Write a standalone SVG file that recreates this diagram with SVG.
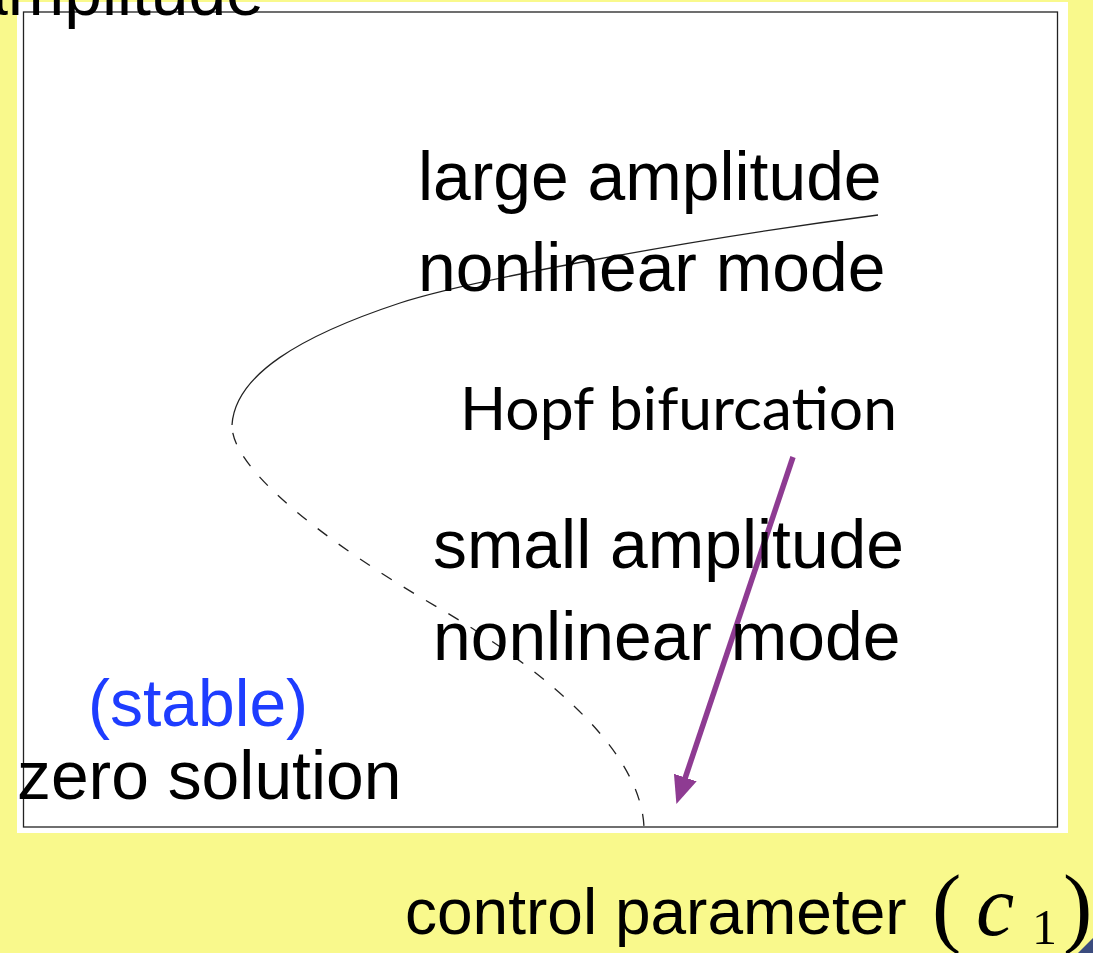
<svg xmlns="http://www.w3.org/2000/svg" width="1093" height="953" viewBox="0 0 1093 953">
<style>
.t{font-family:"Liberation Sans",Arial,sans-serif;font-size:67.8px;fill:#000}
.h{font-family:Lato,"Open Sans",sans-serif;font-size:60px;fill:#000}
.m{font-family:"Liberation Serif","Times New Roman",serif;fill:#000}
.curve{fill:none;stroke:#222;stroke-width:1.3}
</style>
<defs>
<marker id="ah" markerUnits="userSpaceOnUse" viewBox="0 0 28 24" markerWidth="28" markerHeight="24" refX="1" refY="12" orient="auto">
<path d="M0,0 L28,12 L0,24 z" fill="#8E3B92"/>
</marker>
</defs>
<rect x="0" y="0" width="1093" height="953" fill="#F9F98C"/>
<rect x="17" y="2" width="1051" height="831" fill="#fff"/>
<rect x="23.5" y="12" width="1034" height="815" fill="none" stroke="#222" stroke-width="1.3"/>
<g id="axis-y"><text class="t" x="-30" y="15">amplitude</text></g>
<g id="connectors">
<path class="curve" d="M878,215 C700,238 470,280 400,303 C300,336 235,375 232,425"/>
<path class="curve" stroke-dasharray="12 14" stroke-dashoffset="-8" d="M232,425 C231,470 330,545 437,607 C520,655 640,740 644,827"/>
<line x1="793" y1="457" x2="685" y2="778.5" stroke="#8E3B92" stroke-width="5.5" marker-end="url(#ah)"/>
</g>
<g id="large-mode"><text class="t" x="418" y="200">large amplitude</text><text class="t" x="418" y="291">nonlinear mode</text></g>
<g id="hopf"><text class="h" x="460" y="430" textLength="437" lengthAdjust="spacingAndGlyphs">Hopf bifurcation</text></g>
<g id="small-mode"><text class="t" x="433" y="568">small amplitude</text><text class="t" x="433" y="660">nonlinear mode</text></g>
<g id="zero"><text class="t" x="88" y="726" style="fill:#1E3DFF;font-size:66px">(stable)</text><text class="t" x="17" y="799">zero solution</text></g>
<g id="axis-x"><text class="t" x="405" y="934" style="font-size:64px">control parameter</text>
<text class="m" x="932" y="936" style="font-size:88px;font-weight:300">(</text>
<text class="m" x="976" y="935" style="font-size:86px;font-style:italic">c</text>
<text class="m" x="1032" y="944" style="font-size:50px">1</text>
<text class="m" x="1063" y="936" style="font-size:88px;font-weight:300">)</text></g>
<polygon points="1078,953 1093,938 1093,953" fill="#3B4C7E"/>
</svg>
